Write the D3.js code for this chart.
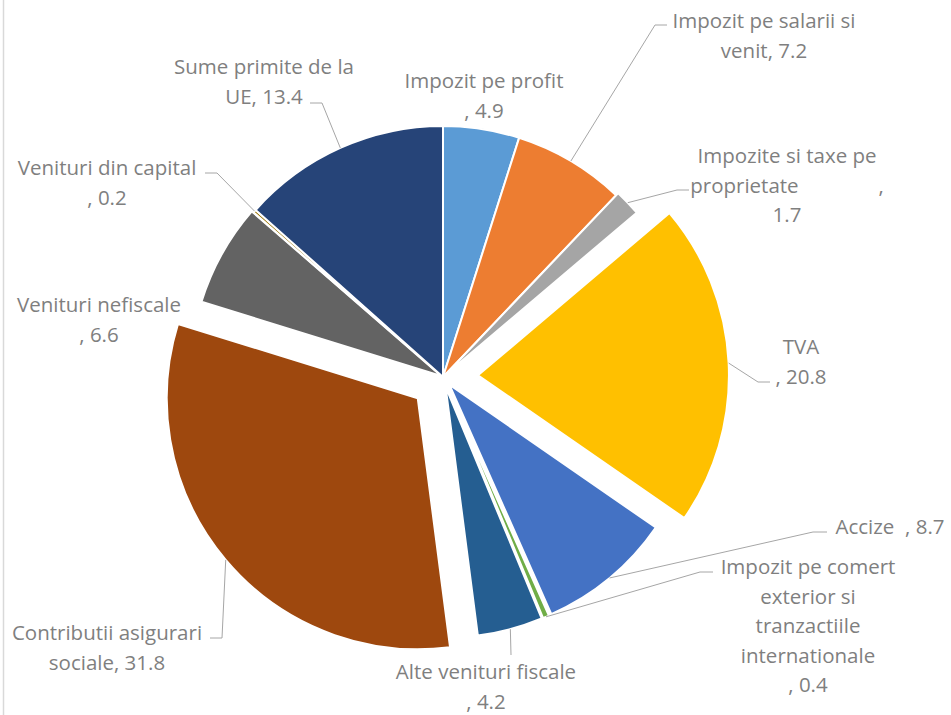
<!DOCTYPE html>
<html>
<head>
<meta charset="utf-8">
<script src="https://cdn.jsdelivr.net/npm/d3@7/dist/d3.min.js"></script>
<style>
  body { margin: 0; background: #fff; }
  .lbl { font-family: "Open Sans", Lato, sans-serif; font-size: 20.5px; fill: #7f7f7f; white-space: pre; }
</style>
</head>
<body>
<svg class="pie" width="951" height="715"></svg>
<script>
// data
var categories = ["Impozit pe profit", "Impozit pe salarii si venit", "Impozite si taxe pe proprietate",
  "TVA", "Accize", "Impozit pe comert exterior si tranzactiile internationale", "Alte venituri fiscale",
  "Contributii asigurari sociale", "Venituri nefiscale", "Venituri din capital", "Sume primite de la UE"];
var values = [4.9, 7.2, 1.7, 20.8, 8.7, 0.4, 4.2, 31.8, 6.6, 0.2, 13.4];
var colors = ["#5b9bd5", "#ed7d31", "#a5a5a5", "#ffc000", "#4472c4", "#70ad47", "#255e91",
  "#9e480e", "#636363", "#997300", "#264478"];

// how far each slice is pulled out
var explode = [0, 0, 3, 35, 10, 10, 10, 33, 2, 0, 0];

// label layout: lines ({v} = value), centre x, first baseline, leader elbow points
var labelLayout = [
  {lines: ["Impozit pe profit", ", {v}"], x: 484, y: 88, leader: null},
  {lines: ["Impozit pe salarii si", "venit, {v}"], x: 764, y: 28, leader: [[655, 25], [667, 25]]},
  {lines: ["Impozite si taxe pe", "proprietate               ,", "{v}"], x: 787, y: 163, leader: [[677, 190], [689, 190]]},
  {lines: ["TVA", ", {v}"], x: 801, y: 354, leader: [[758, 382], [770, 382]]},
  {lines: ["Accize  , {v}"], x: 890, y: 534, leader: [[813, 532], [827, 532]]},
  {lines: ["Impozit pe comert", "exterior si", "tranzactiile", "internationale", ", {v}"], x: 808, y: 574, leader: [[700, 572], [713, 572]]},
  {lines: ["Alte venituri fiscale", ", {v}"], x: 486, y: 679, leader: [[511, 655]]},
  {lines: ["Contributii asigurari", "sociale, {v}"], x: 107, y: 640, leader: [[222, 638], [210, 638]]},
  {lines: ["Venituri nefiscale", ", {v}"], x: 99, y: 312, leader: null},
  {lines: ["Venituri din capital", ", {v}"], x: 107, y: 175, leader: [[217, 173], [205, 173]]},
  {lines: ["Sume primite de la", "UE, {v}"], x: 264, y: 74, leader: [[322, 103], [310, 103]]}
];
var lineHeight = 29.5;

var svg = d3.select(".pie"),
    cx = 443, cy = 377,
    radius = 251;

// left border of the chart area
svg.append("line")
    .attr("x1", 3.5).attr("x2", 3.5)
    .attr("y1", 0).attr("y2", 715)
    .attr("stroke", "#d9d9d9")
    .attr("stroke-width", 1.5);

var pie = d3.pie().sort(null).value(function(d) { return d; });
var arcs = pie(values);

var arc = d3.arc().innerRadius(0).outerRadius(radius);
var edge = d3.arc().innerRadius(radius).outerRadius(radius);

function shift(d, i) {
  var a = (d.startAngle + d.endAngle) / 2;
  return [explode[i] * Math.sin(a), -explode[i] * Math.cos(a)];
}

var g = svg.append("g")
    .attr("transform", "translate(" + cx + "," + cy + ")");

g.selectAll(".slice")
    .data(arcs)
  .enter().append("path")
    .attr("class", "slice")
    .attr("transform", function(d, i) { var s = shift(d, i); return "translate(" + s[0] + "," + s[1] + ")"; })
    .attr("d", arc)
    .attr("fill", function(d, i) { return colors[i]; })
    .attr("stroke", "#fff")
    .attr("stroke-width", 2);

// leader lines
arcs.forEach(function(d, i) {
  var lay = labelLayout[i];
  if (!lay.leader) return;
  var s = shift(d, i), c = edge.centroid(d);
  var pts = [[cx + c[0] + s[0], cy + c[1] + s[1]]].concat(lay.leader);
  svg.append("path")
      .attr("d", d3.line()(pts))
      .attr("fill", "none")
      .attr("stroke", "#a6a6a6")
      .attr("stroke-width", 1);
});

// labels
labelLayout.forEach(function(lay, i) {
  var t = svg.append("text")
      .attr("class", "lbl")
      .attr("text-anchor", "middle");
  lay.lines.forEach(function(line, j) {
    var txt = line.replace("{v}", values[i].toFixed(1));
    t.append("tspan")
        .attr("x", lay.x)
        .attr("y", lay.y + j * lineHeight)
        .text(txt);
  });
});
</script>
</body>
</html>
